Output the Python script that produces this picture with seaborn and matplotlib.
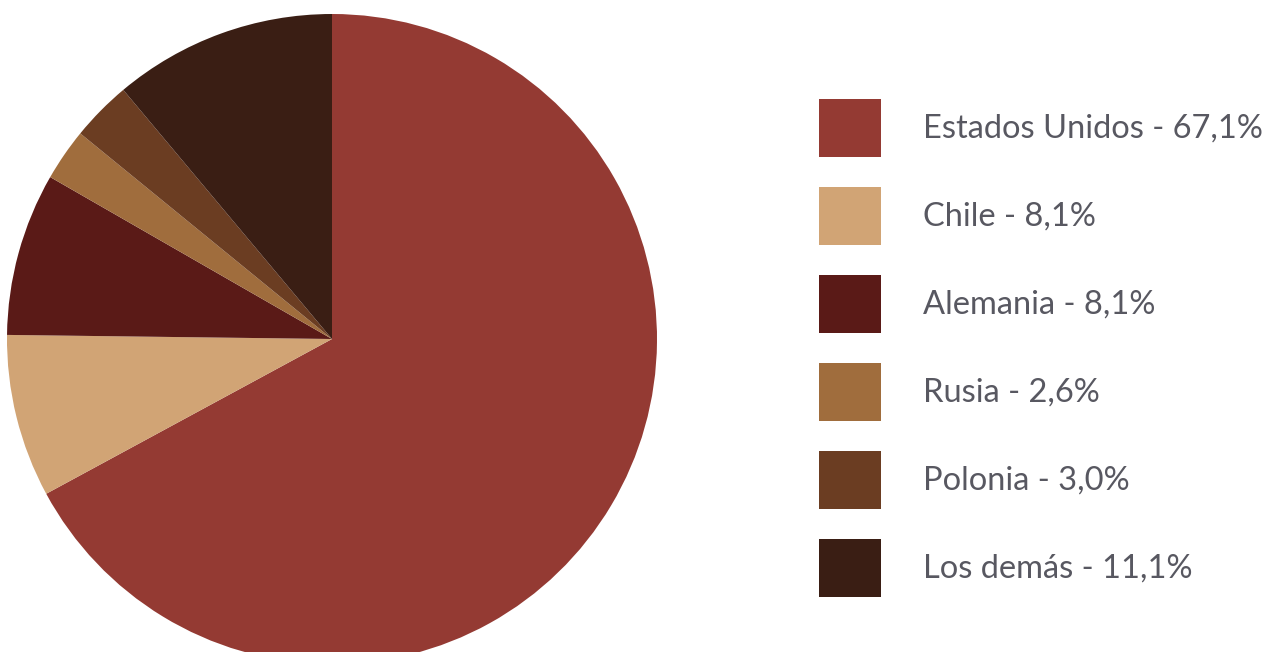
import matplotlib
matplotlib.use("Agg")
import matplotlib.pyplot as plt
from matplotlib.patches import Rectangle
import seaborn as sns

countries = ["Estados Unidos", "Chile", "Alemania", "Rusia", "Polonia", "Los demás"]
shares = [67.1, 8.1, 8.1, 2.6, 3.0, 11.1]
share_labels = ["67,1%", "8,1%", "8,1%", "2,6%", "3,0%", "11,1%"]
colors = ["#943A33", "#D1A475", "#5A1A17", "#A06D3D", "#6B3D22", "#3A1E14"]

sns.set_theme(style="white")
plt.rcParams['font.family'] = ['Lato', 'DejaVu Sans']
palette = sns.color_palette(colors)

W, H = 1278, 652
fig = plt.figure(figsize=(W / 100, H / 100), dpi=100)
fig.patch.set_facecolor("white")

cx, cy, r = 332, 339, 325
ax = fig.add_axes([(cx - r) / W, (H - cy - r) / H, 2 * r / W, 2 * r / H])
ax.pie(shares, colors=palette, startangle=90, counterclock=False,
       wedgeprops=dict(linewidth=0), radius=1)
ax.set_xlim(-1, 1)
ax.set_ylim(-1, 1)
ax.set_aspect("equal")
ax.axis("off")

# legend
x0, w, h = 819, 62, 58
y_first, step = 128, 88
for i, (c, lab) in enumerate(zip(countries, share_labels)):
    yc = y_first + i * step
    fig.add_artist(Rectangle((x0 / W, (H - yc - h / 2) / H), w / W, h / H,
                             transform=fig.transFigure, facecolor=palette[i],
                             edgecolor="none"))
    fig.text(923 / W, (H - yc - 1) / H, f"{c} - {lab}", fontsize=23.5,
             color="#585861", va="center", ha="left")

fig.savefig("out.png", dpi=100)
